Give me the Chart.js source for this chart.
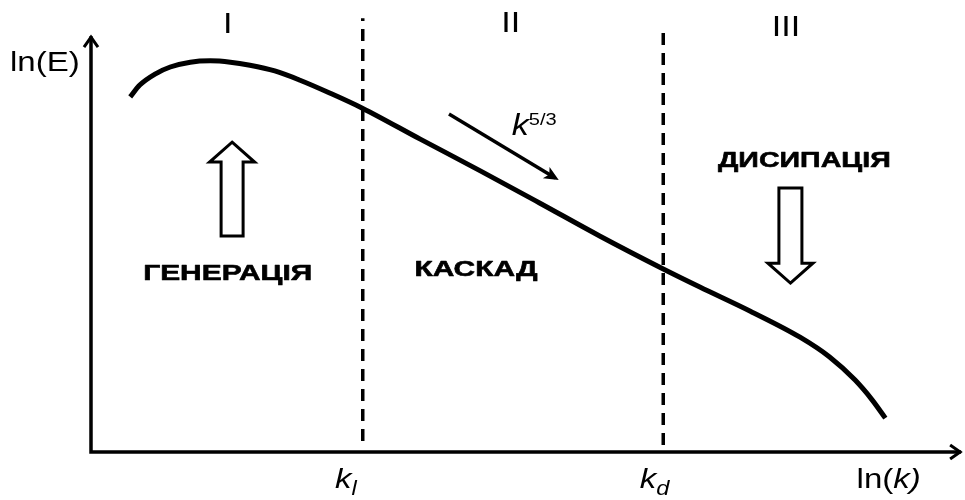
<!DOCTYPE html>
<html>
<head>
<meta charset="utf-8">
<script src="https://cdn.jsdelivr.net/npm/chart.js@4.4.1/dist/chart.umd.min.js"></script>
<style>
  html, body { margin: 0; padding: 0; background: #ffffff; }
  #wrap { width: 965px; height: 500px; }
</style>
</head>
<body>
<div id="wrap"><canvas id="c" width="965" height="500"></canvas></div>
<script>
// Schematic turbulent energy spectrum, ln(E) against ln(k), in arbitrary units (0..100)
const lnK = [4.5, 5.6, 7.35, 9.1, 11.4, 13.7, 16.0, 18.25, 21.1, 24.0, 27.4, 31.1, 37.8, 44.7, 51.5, 58.4, 65.7, 69.9, 75.7, 81.4, 84.8, 87.7, 89.7, 91.2];
const lnE = [80.7, 83.4, 85.9, 87.5, 88.6, 88.9, 88.6, 87.9, 86.6, 84.5, 81.6, 78.2, 71.1, 63.9, 56.6, 49.1, 41.6, 37.5, 32.0, 26.1, 21.6, 16.4, 11.8, 7.7];

// Range boundaries k_l and k_d (dashed verticals)
const boundaryK = [31.2, 65.7];
const boundaryTop = [98.6, 95.9];
const boundaryBottom = [2.5, 1.6];

// Region numerals and labels
const regionNumerals = ['I', 'II', 'III'];
const regionLabels = ['ГЕНЕРАЦІЯ', 'КАСКАД', 'ДИСИПАЦІЯ'];

const BLACK = '#000000';
const SX = 1.18; // horizontal stretch of the lettering

const curve = lnK.map((k, i) => ({ x: k, y: lnE[i] }));
const dashSets = boundaryK.map((k, i) => ({
  data: [{ x: k, y: boundaryBottom[i] }, { x: k, y: boundaryTop[i] }],
  borderColor: BLACK,
  borderWidth: 3.5,
  borderDash: [12, 8],
  pointRadius: 0,
  showLine: true,
  fill: false,
  clip: false
}));

function runText(ctx, parts, x, y, align) {
  // parts: [{t, font, dy, sx, bolder}] drawn one after another, stretched horizontally
  const widthOf = p => {
    ctx.font = p.font;
    return ctx.measureText(p.t).width * (p.sx || SX);
  };
  let total = 0;
  parts.forEach(p => { total += widthOf(p); });
  let cx = align === 'center' ? x - total / 2 : x;
  parts.forEach(p => {
    const w = widthOf(p);
    ctx.save();
    ctx.font = p.font;
    ctx.translate(cx, y + (p.dy || 0));
    ctx.scale(p.sx || SX, 1);
    ctx.textBaseline = 'alphabetic';
    ctx.textAlign = 'left';
    ctx.fillStyle = BLACK;
    ctx.fillText(p.t, 0, 0);
    if (p.bolder) {
      ctx.strokeStyle = BLACK;
      ctx.lineWidth = p.bolder;
      ctx.lineJoin = 'round';
      ctx.strokeText(p.t, 0, 0);
    }
    ctx.restore();
    cx += w;
  });
}

function blockArrow(ctx, cx, tipY, headY, endY, headHalf, shaftHalf) {
  ctx.beginPath();
  ctx.moveTo(cx, tipY);
  ctx.lineTo(cx + headHalf, headY);
  ctx.lineTo(cx + shaftHalf, headY);
  ctx.lineTo(cx + shaftHalf, endY);
  ctx.lineTo(cx - shaftHalf, endY);
  ctx.lineTo(cx - shaftHalf, headY);
  ctx.lineTo(cx - headHalf, headY);
  ctx.closePath();
  ctx.fillStyle = '#ffffff';
  ctx.fill();
  ctx.lineWidth = 3;
  ctx.strokeStyle = BLACK;
  ctx.lineJoin = 'miter';
  ctx.stroke();
}

const decor = {
  id: 'decor',
  afterDatasetsDraw(chart) {
    const { ctx, scales: { x, y } } = chart;
    const X = v => x.getPixelForValue(v);
    const Y = v => y.getPixelForValue(v);
    ctx.save();

    // axes with arrow heads
    ctx.strokeStyle = BLACK;
    ctx.lineWidth = 3.5;
    ctx.lineCap = 'butt';
    const ox = X(0), oy = Y(0);
    ctx.beginPath();
    ctx.moveTo(ox, oy + 1.75);
    ctx.lineTo(ox, Y(94.5));
    ctx.moveTo(ox - 1.75, oy);
    ctx.lineTo(X(99.9), oy);
    ctx.stroke();
    ctx.lineWidth = 3;
    ctx.lineJoin = 'miter';
    ctx.beginPath();
    ctx.moveTo(ox - 7, Y(94.5) + 11);
    ctx.lineTo(ox, Y(94.5) + 1);
    ctx.lineTo(ox + 7, Y(94.5) + 11);
    ctx.moveTo(X(99.9) - 11, oy - 7);
    ctx.lineTo(X(99.9) - 1, oy);
    ctx.lineTo(X(99.9) - 11, oy + 7);
    ctx.stroke();

    // generation (up) and dissipation (down) block arrows
    blockArrow(ctx, X(16.2), Y(70.4), Y(65.9), Y(49.1), 22.5, 11);
    blockArrow(ctx, X(80.3), Y(38.4), Y(42.9), Y(60.0), 22.5, 11.5);

    // cascade direction arrow
    const ax0 = X(41.1), ay0 = Y(76.8), ax1 = X(53.7), ay1 = Y(61.8);
    const ang = Math.atan2(ay1 - ay0, ax1 - ax0);
    ctx.lineWidth = 3.5;
    ctx.beginPath();
    ctx.moveTo(ax0, ay0);
    ctx.lineTo(ax1 - 4 * Math.cos(ang), ay1 - 4 * Math.sin(ang));
    ctx.stroke();
    ctx.beginPath();
    ctx.moveTo(ax1, ay1);
    ctx.lineTo(ax1 - 16 * Math.cos(ang - 0.42), ay1 - 16 * Math.sin(ang - 0.42));
    ctx.lineTo(ax1 - 11 * Math.cos(ang), ay1 - 11 * Math.sin(ang));
    ctx.lineTo(ax1 - 16 * Math.cos(ang + 0.42), ay1 - 16 * Math.sin(ang + 0.42));
    ctx.closePath();
    ctx.fillStyle = BLACK;
    ctx.fill();

    const F = 'Liberation Sans, Arial, sans-serif';
    // axis titles
    runText(ctx, [{ t: 'ln(E)', font: `28px ${F}` }], X(-9.3), Y(86.6), 'left');
    runText(ctx, [{ t: 'ln(', font: `28px ${F}` }, { t: 'k)', font: `italic 28px ${F}` }], X(87.9), 488, 'left');
    runText(ctx, [{ t: 'k', font: `italic 28px ${F}` }, { t: 'l', font: `italic 20px ${F}`, dy: 7 }], X(28.0), 488, 'left');
    runText(ctx, [{ t: 'k', font: `italic 28px ${F}` }, { t: 'd', font: `italic 20px ${F}`, dy: 7 }], X(63.0), 488, 'left');

    // region numerals
    runText(ctx, [{ t: regionNumerals[0], font: `29px ${F}` }], X(15.7), Y(95.2), 'center');
    runText(ctx, [{ t: regionNumerals[1], font: `29px ${F}` }], X(48.2), Y(95.4), 'center');
    runText(ctx, [{ t: regionNumerals[2], font: `29px ${F}` }], X(79.8), Y(94.5), 'center');

    // region labels
    runText(ctx, [{ t: regionLabels[0], font: `bold 22px ${F}`, sx: 1.36, bolder: 0.6 }], X(15.7), Y(39.1), 'center');
    runText(ctx, [{ t: regionLabels[1], font: `bold 22px ${F}`, sx: 1.36, bolder: 0.6 }], X(44.2), Y(40.0), 'center');
    runText(ctx, [{ t: regionLabels[2], font: `bold 22px ${F}`, sx: 1.3, bolder: 0.6 }], X(81.9), Y(64.8), 'center');

    // cascade slope label
    runText(ctx, [{ t: 'k', font: `italic 29px ${F}` }, { t: '5/3', font: `17px ${F}`, dy: -10 }], X(48.3), Y(72.0), 'left');

    ctx.restore();
  }
};

new Chart(document.getElementById('c'), {
  type: 'scatter',
  data: {
    datasets: [
      {
        data: curve,
        borderColor: BLACK,
        borderWidth: 5,
        pointRadius: 0,
        showLine: true,
        cubicInterpolationMode: 'monotone',
        fill: false,
        clip: false
      },
      ...dashSets
    ]
  },
  options: {
    responsive: false,
    animation: false,
    devicePixelRatio: 1,
    layout: { padding: { left: 91, right: 3, top: 12, bottom: 48 } },
    plugins: { legend: { display: false }, tooltip: { enabled: false } },
    scales: {
      x: { type: 'linear', min: 0, max: 100, display: false },
      y: { type: 'linear', min: 0, max: 100, display: false }
    }
  },
  plugins: [decor]
});
</script>
</body>
</html>
